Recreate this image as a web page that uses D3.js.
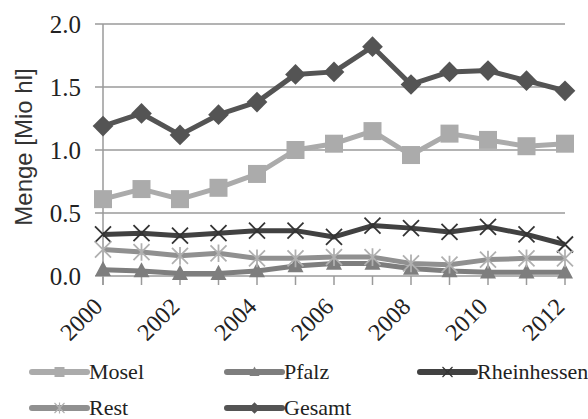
<!DOCTYPE html>
<html><head><meta charset="utf-8">
<script src="https://cdn.jsdelivr.net/npm/d3@7"></script>
</head><body style="margin:0;background:#fff">
<script>
const years = [2000,2001,2002,2003,2004,2005,2006,2007,2008,2009,2010,2011,2012];
const tickYears = [2000,2002,2004,2006,2008,2010,2012];
const yTicks = [0,0.5,1.0,1.5,2.0];
const mosel =       [0.61,0.69,0.61,0.70,0.81,1.00,1.05,1.15,0.96,1.13,1.08,1.03,1.05];
const pfalz =       [0.05,0.04,0.02,0.02,0.04,0.08,0.10,0.10,0.06,0.04,0.03,0.03,0.03];
const rheinhessen = [0.33,0.34,0.32,0.34,0.36,0.36,0.31,0.40,0.38,0.35,0.39,0.33,0.25];
const rest =        [0.21,0.19,0.16,0.18,0.14,0.14,0.15,0.15,0.10,0.09,0.13,0.14,0.14];
const gesamt =      [1.19,1.29,1.12,1.28,1.38,1.60,1.62,1.82,1.52,1.62,1.63,1.55,1.47];
const seriesNames = ["Mosel","Pfalz","Rheinhessen","Rest","Gesamt"];

const SERIF = "'Times New Roman', 'Liberation Serif', serif";
const SANS = "Arial, 'Liberation Sans', sans-serif";

const series = [
  {name:"Mosel", values:mosel, color:"#ababab", mcolor:"#ababab", marker:"square"},
  {name:"Pfalz", values:pfalz, color:"#7e7e7e", mcolor:"#7e7e7e", marker:"triangle"},
  {name:"Rheinhessen", values:rheinhessen, color:"#414141", mcolor:"#333333", marker:"x"},
  {name:"Rest", values:rest, color:"#909090", mcolor:"#b0b0b0", marker:"star"},
  {name:"Gesamt", values:gesamt, color:"#545454", mcolor:"#545454", marker:"diamond"}
];

const W=588,H=419;
const svg = d3.select("body").append("svg").attr("width",W).attr("height",H)
  .attr("font-family",SERIF).style("display","block").style("font-family",SERIF);
const x = d3.scaleLinear().domain([2000,2012]).range([103,565]);
const y = d3.scaleLinear().domain([0,2]).range([276,24]);

svg.append("g").selectAll("line").data(yTicks).join("line")
  .attr("x1",95).attr("x2",565).attr("y1",d=>y(d)).attr("y2",d=>y(d))
  .attr("stroke","#9a9a9a").attr("stroke-width",1.5);
svg.append("line").attr("x1",103).attr("x2",103).attr("y1",y(2)).attr("y2",285)
  .attr("stroke","#9a9a9a").attr("stroke-width",1.5);
svg.append("g").selectAll("line").data(years).join("line")
  .attr("x1",d=>x(d)).attr("x2",d=>x(d)).attr("y1",276).attr("y2",285)
  .attr("stroke","#9a9a9a").attr("stroke-width",1.5);

svg.append("g").selectAll("text").data(yTicks).join("text")
  .attr("font-family",SERIF).style("font-family",SERIF)
  .attr("x",81).attr("y",d=>y(d)).attr("dy","0.34em").attr("text-anchor","end")
  .attr("font-size",25).attr("fill","#222").text(d=>d.toFixed(1));
svg.append("g").selectAll("text").data(tickYears).join("text")
  .attr("font-family",SERIF).style("font-family",SERIF)
  .attr("transform",d=>`translate(${x(d)+1},308) rotate(-45)`)
  .attr("text-anchor","end").attr("font-size",24).attr("fill","#222").text(d=>String(d));
svg.append("text").attr("font-family",SANS).style("font-family",SANS)
  .attr("transform","translate(32,147) rotate(-90)")
  .attr("text-anchor","middle").attr("font-size",24).attr("fill","#333").text("Menge [Mio hl]");

function drawMarker(g, type, cx, cy, s, color){
  if(type==="square"){
    g.append("rect").attr("x",cx-s/2).attr("y",cy-s/2).attr("width",s).attr("height",s).attr("fill",color);
  } else if(type==="diamond"){
    const r=s/2*1.15;
    g.append("path").attr("d",`M${cx},${cy-r}L${cx+r},${cy}L${cx},${cy+r}L${cx-r},${cy}Z`).attr("fill",color);
  } else if(type==="triangle"){
    const r=s/2;
    g.append("path").attr("d",`M${cx},${cy-r*1.1}L${cx+r},${cy+r*0.8}L${cx-r},${cy+r*0.8}Z`).attr("fill",color);
  } else if(type==="x"){
    const r=s/2;
    g.append("path").attr("d",`M${cx-r},${cy-r}L${cx+r},${cy+r}M${cx-r},${cy+r}L${cx+r},${cy-r}`)
      .attr("stroke",color).attr("stroke-width",Math.max(1.2,s/9)).attr("fill","none");
  } else if(type==="star"){
    const r=s/2;
    g.append("path").attr("d",`M${cx-r},${cy-r}L${cx+r},${cy+r}M${cx-r},${cy+r}L${cx+r},${cy-r}M${cx},${cy-r*1.1}L${cx},${cy+r*1.1}`)
      .attr("stroke",color).attr("stroke-width",Math.max(1.2,s/9)).attr("fill","none");
  }
}

const line = d3.line().x((d,i)=>x(years[i])).y(d=>y(d));
const sizes = {square:18, diamond:18, triangle:16, x:16, star:16};
series.forEach(s=>{
  const g = svg.append("g");
  g.append("path").datum(s.values).attr("d",line).attr("fill","none")
    .attr("stroke",s.color).attr("stroke-width",5).attr("stroke-linejoin","round");
  s.values.forEach((v,i)=>drawMarker(g,s.marker,x(years[i]),y(v),sizes[s.marker],s.mcolor));
});

const legendPos = [
  {lx:32, ly:372},{lx:227, ly:372},{lx:420, ly:372},{lx:32, ly:408},{lx:227, ly:408}
];
series.forEach((s,i)=>{
  const p = legendPos[i];
  const g = svg.append("g");
  g.append("line").attr("x1",p.lx).attr("x2",p.lx+55).attr("y1",p.ly).attr("y2",p.ly)
    .attr("stroke",s.color).attr("stroke-width",6).attr("stroke-linecap","round");
  drawMarker(g,s.marker,p.lx+27.5,p.ly,10,s.mcolor);
  g.append("text").attr("font-family",SERIF).style("font-family",SERIF)
    .attr("x",p.lx+57).attr("y",p.ly).attr("dy","0.33em")
    .attr("font-size",22).attr("fill","#222").text(seriesNames[i]);
});
</script>
</body></html>
